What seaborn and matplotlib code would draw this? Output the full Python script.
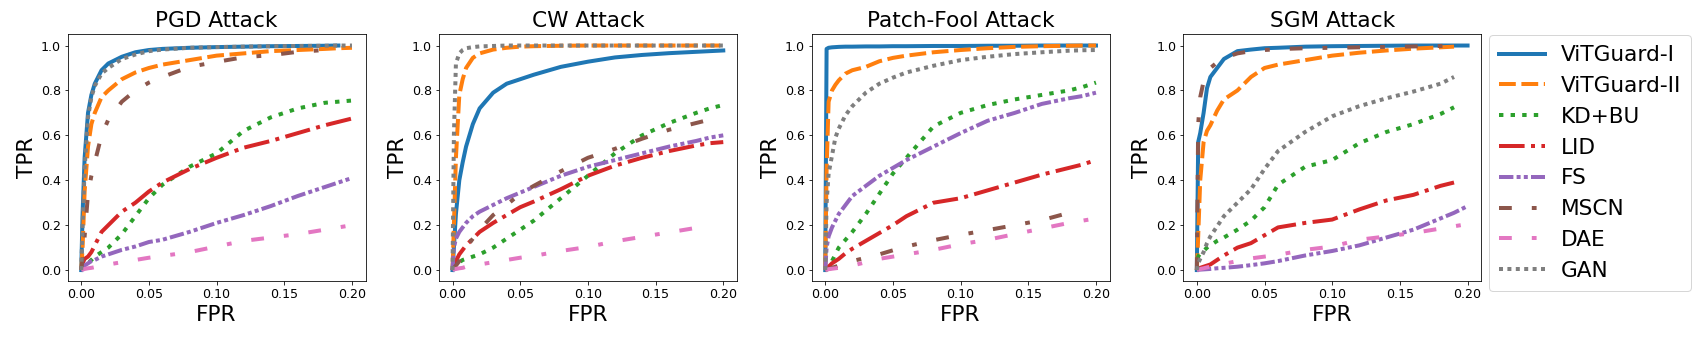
import numpy as np
import pandas as pd
import matplotlib
matplotlib.use("Agg")
import matplotlib.pyplot as plt
import seaborn as sns

nan = np.nan

attacks = ["PGD Attack", "CW Attack", "Patch-Fool Attack", "SGM Attack"]
methods = ["ViTGuard-I", "ViTGuard-II", "KD+BU", "LID", "FS", "MSCN", "DAE", "GAN"]

fpr = [0, 0.001, 0.0025, 0.005, 0.0075, 0.01, 0.015, 0.02, 0.03, 0.04,
       0.05, 0.06, 0.08, 0.10, 0.12, 0.14, 0.16, 0.18, 0.19, 0.20]

# ---- PGD ----
pgd_vitguard1 = [0, 0.25, 0.5, 0.7, 0.78, 0.83, 0.89, 0.92, 0.95, 0.97, 0.98, 0.985, 0.99, 0.993, 0.995, 0.997, 0.998, 0.999, 1.0, nan]
pgd_vitguard2 = [0, 0.1, 0.35, 0.55, 0.65, 0.7, 0.77, 0.8, 0.85, 0.88, 0.9, 0.915, 0.935, 0.955, 0.965, 0.975, 0.98, 0.985, 0.988, 0.99]
pgd_kdbu = [0, 0.01, 0.02, 0.03, 0.045, 0.06, 0.08, 0.1, 0.16, 0.24, 0.32, 0.38, 0.46, 0.52, 0.62, 0.68, 0.72, 0.745, 0.75, 0.755]
pgd_lid = [0, 0.03, 0.05, 0.06, 0.08, 0.11, 0.17, 0.2, 0.26, 0.3, 0.35, 0.39, 0.45, 0.5, 0.545, 0.575, 0.61, 0.645, 0.66, 0.675]
pgd_fs = [0, 0.01, 0.02, 0.03, 0.04, 0.045, 0.06, 0.07, 0.09, 0.105, 0.125, 0.135, 0.17, 0.21, 0.245, 0.285, 0.33, 0.37, 0.39, 0.41]
pgd_mscn = [0, 0.05, 0.15, 0.34, 0.42, 0.48, 0.6, 0.67, 0.75, 0.8, 0.835, 0.86, 0.905, 0.927, 0.948, 0.957, 0.972, 0.98, nan, nan]
pgd_dae = [0, 0.002, 0.005, 0.008, 0.01, 0.013, 0.02, 0.025, 0.035, 0.045, 0.055, 0.063, 0.08, 0.105, 0.13, 0.145, 0.16, 0.18, 0.19, 0.2]
pgd_gan = [0, 0.2, 0.45, 0.68, 0.77, 0.82, 0.875, 0.9, 0.94, 0.96, 0.975, 0.982, 0.99, 0.993, 0.995, 0.997, 0.998, 0.999, 1.0, 1.0]

# ---- CW ----
cw_vitguard1 = [0, 0.1, 0.25, 0.4, 0.48, 0.55, 0.65, 0.72, 0.79, 0.83, 0.85, 0.87, 0.905, 0.928, 0.947, 0.958, 0.966, 0.972, 0.975, 0.978]
cw_vitguard2 = [0, 0.2, 0.5, 0.78, 0.85, 0.9, 0.945, 0.965, 0.982, 0.99, 0.995, 0.997, 0.999, 1, 1, 1, 1, 1, 1, 1]
cw_kdbu = [0, 0.01, 0.02, 0.035, 0.045, 0.05, 0.06, 0.07, 0.1, 0.14, 0.18, 0.22, 0.32, 0.42, 0.52, 0.6, 0.655, 0.7, 0.72, 0.735]
cw_lid = [0, 0.02, 0.04, 0.07, 0.09, 0.11, 0.14, 0.17, 0.21, 0.245, 0.28, 0.305, 0.36, 0.42, 0.465, 0.5, 0.53, 0.555, 0.565, 0.57]
cw_fs = [0, 0.1, 0.14, 0.17, 0.19, 0.21, 0.24, 0.26, 0.29, 0.32, 0.345, 0.37, 0.42, 0.46, 0.49, 0.52, 0.55, 0.575, 0.59, 0.6]
cw_mscn = [0, 0.01, 0.02, 0.04, 0.07, 0.1, 0.14, 0.18, 0.245, 0.29, 0.34, 0.375, 0.44, 0.5, 0.54, 0.585, 0.625, 0.655, 0.67, nan]
cw_dae = [0, 0.003, 0.005, 0.008, 0.01, 0.015, 0.02, 0.025, 0.035, 0.045, 0.055, 0.063, 0.085, 0.103, 0.128, 0.148, 0.168, 0.188, nan, nan]
cw_gan = [0, 0.6, 0.92, 0.965, 0.98, 0.988, 0.993, 0.996, 0.998, 1, 1, 1, 1, 1, 1, 1, 1, 1, 1, 1]

# ---- Patch-Fool ----
pf_vitguard1 = [0, 0.985, 0.99, 0.992, 0.993, 0.994, 0.995, 0.995, 0.996, 0.996, 0.997, 0.997, 0.998, 0.998, 0.999, 0.999, 1, 1, 1, 1]
pf_vitguard2 = [0, 0.45, 0.75, 0.8, 0.825, 0.845, 0.875, 0.89, 0.905, 0.93, 0.945, 0.955, 0.97, 0.98, 0.988, 0.994, 0.997, 0.999, 1, 1]
pf_kdbu = [0, 0.005, 0.02, 0.04, 0.07, 0.1, 0.135, 0.17, 0.25, 0.34, 0.43, 0.5, 0.64, 0.7, 0.735, 0.76, 0.78, 0.8, 0.815, 0.835]
pf_lid = [0, 0.005, 0.015, 0.03, 0.04, 0.05, 0.075, 0.095, 0.13, 0.165, 0.2, 0.24, 0.3, 0.32, 0.355, 0.39, 0.425, 0.455, 0.47, 0.49]
pf_fs = [0, 0.1, 0.15, 0.19, 0.22, 0.25, 0.29, 0.33, 0.375, 0.42, 0.455, 0.49, 0.55, 0.61, 0.665, 0.7, 0.74, 0.765, 0.775, 0.79]
pf_mscn = [0, 0.002, 0.005, 0.01, 0.015, 0.02, 0.03, 0.04, 0.055, 0.07, 0.088, 0.105, 0.133, 0.157, 0.178, 0.2, 0.222, 0.255, nan, nan]
pf_dae = [0, 0.002, 0.004, 0.006, 0.008, 0.01, 0.015, 0.02, 0.035, 0.05, 0.06, 0.07, 0.09, 0.115, 0.135, 0.16, 0.185, 0.21, 0.22, 0.23]
pf_gan = [0, 0.3, 0.43, 0.51, 0.59, 0.63, 0.69, 0.73, 0.79, 0.83, 0.857, 0.88, 0.91, 0.935, 0.95, 0.962, 0.97, 0.977, 0.979, 0.98]

# ---- SGM ----
sgm_vitguard1 = [0, 0.57, 0.61, 0.7, 0.81, 0.86, 0.9, 0.94, 0.975, 0.982, 0.988, 0.99, 0.995, 0.997, 0.998, 0.999, 1, 1, 1, 1]
sgm_vitguard2 = [0, 0.15, 0.4, 0.57, 0.62, 0.645, 0.71, 0.76, 0.8, 0.86, 0.9, 0.915, 0.935, 0.955, 0.968, 0.978, 0.986, 0.992, 0.995, nan]
sgm_kdbu = [0, 0.06, 0.075, 0.085, 0.1, 0.11, 0.13, 0.145, 0.18, 0.22, 0.28, 0.38, 0.46, 0.49, 0.565, 0.615, 0.65, 0.695, 0.725, nan]
sgm_lid = [0, 0.005, 0.01, 0.015, 0.02, 0.025, 0.045, 0.065, 0.1, 0.12, 0.155, 0.19, 0.21, 0.225, 0.27, 0.31, 0.335, 0.375, 0.39, nan]
sgm_fs = [0, 0.001, 0.002, 0.003, 0.004, 0.005, 0.008, 0.01, 0.015, 0.022, 0.03, 0.04, 0.065, 0.085, 0.11, 0.145, 0.18, 0.23, 0.255, 0.285]
sgm_mscn = [0, 0.65, 0.77, 0.84, 0.88, 0.9, 0.925, 0.945, 0.965, 0.975, 0.98, 0.984, 0.988, 0.99, 0.992, 0.994, 0.996, 0.998, 1.0, nan]
sgm_dae = [0, 0.003, 0.005, 0.008, 0.012, 0.015, 0.022, 0.028, 0.04, 0.052, 0.06, 0.068, 0.09, 0.105, 0.135, 0.15, 0.165, 0.185, 0.195, 0.205]
sgm_gan = [0, 0.03, 0.05, 0.08, 0.12, 0.15, 0.195, 0.24, 0.3, 0.36, 0.45, 0.53, 0.615, 0.685, 0.73, 0.765, 0.795, 0.83, 0.86, nan]

tpr = {
    "PGD Attack": [pgd_vitguard1, pgd_vitguard2, pgd_kdbu, pgd_lid, pgd_fs, pgd_mscn, pgd_dae, pgd_gan],
    "CW Attack": [cw_vitguard1, cw_vitguard2, cw_kdbu, cw_lid, cw_fs, cw_mscn, cw_dae, cw_gan],
    "Patch-Fool Attack": [pf_vitguard1, pf_vitguard2, pf_kdbu, pf_lid, pf_fs, pf_mscn, pf_dae, pf_gan],
    "SGM Attack": [sgm_vitguard1, sgm_vitguard2, sgm_kdbu, sgm_lid, sgm_fs, sgm_mscn, sgm_dae, sgm_gan],
}

colors = sns.color_palette("tab10", 8)
styles = [
    "-",
    (0, (4.2, 1.4)),
    (0, (1.1, 1.8)),
    (0, (6.4, 1.6, 1.0, 1.6)),
    (0, (3.6, 0.8, 1.0, 0.8, 1.0, 0.8)),
    (0, (3.2, 5.0, 1.2, 5.0)),
    (0, (3.2, 5.0, 1.2, 5.0)),
    (0, (1.0, 1.1)),
]

DPI = 72
W, H = 1703, 340
fig = plt.figure(figsize=(W / DPI, H / DPI), dpi=DPI)

lefts = [67.7, 439.0, 811.7, 1183.3]
ax_w, ax_h = 297.8, 247.0
ax_bottom = 340 - 281.3

TICK_FS = 12.6
BIG_FS = 21.6
LW = 4.0

axes = []
for i, att in enumerate(attacks):
    ax = fig.add_axes([lefts[i] / W, ax_bottom / H, ax_w / W, ax_h / H])
    axes.append(ax)
    for j, m in enumerate(methods):
        df = pd.DataFrame({"FPR": fpr, "TPR": tpr[att][j]}).dropna()
        sns.lineplot(data=df, x="FPR", y="TPR", ax=ax, estimator=None,
                     color=colors[j], linestyle=styles[j], linewidth=LW,
                     label=m)
    ax.set_title(att, fontsize=BIG_FS, pad=7.5)
    ax.set_xlabel("FPR", fontsize=BIG_FS)
    ax.set_ylabel("TPR", fontsize=BIG_FS)
    ax.set_xlim(-0.01, 0.21)
    ax.set_ylim(-0.05, 1.05)
    ax.set_xticks([0.0, 0.05, 0.10, 0.15, 0.20])
    ax.set_xticklabels(["0.00", "0.05", "0.10", "0.15", "0.20"])
    ax.set_yticks([0.0, 0.2, 0.4, 0.6, 0.8, 1.0])
    ax.tick_params(labelsize=TICK_FS)
    leg = ax.get_legend()
    if leg is not None:
        leg.remove()

handles, labels = axes[-1].get_legend_handles_labels()
axes[-1].legend(handles, labels, loc="upper left",
                bbox_to_anchor=(1 + (1489 - 1481.1) / ax_w, (281.3 - 35) / ax_h),
                borderaxespad=0.0, fontsize=BIG_FS, handlelength=2.1,
                handletextpad=0.75, labelspacing=0.5, borderpad=0.47)

fig.savefig("out.png", dpi=DPI)
